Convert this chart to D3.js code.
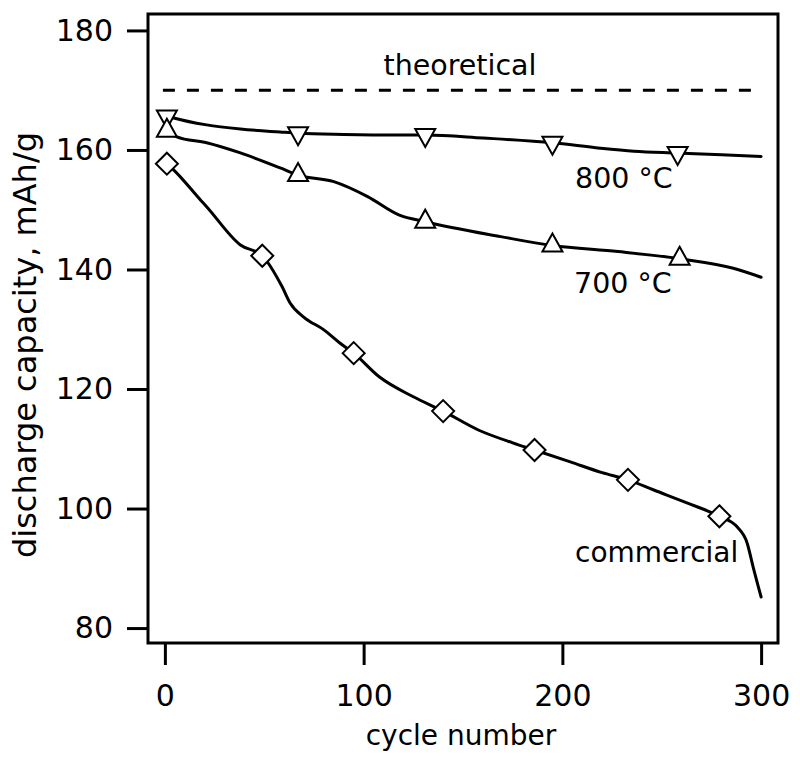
<!DOCTYPE html>
<html>
<head>
<meta charset="utf-8">
<script src="https://cdn.jsdelivr.net/npm/d3@7"></script>
<style>
  html, body { margin: 0; padding: 0; background: #fff; }
  svg { display: block; }
  text { font-family: "DejaVu Sans", sans-serif; fill: #000; }
</style>
</head>
<body>
<svg id="chart" width="800" height="761"></svg>
<script>
// ---- data ----
const xTicks = [0, 100, 200, 300];
const yTicks = [80, 100, 120, 140, 160, 180];
const theoretical = 170;

// 800 °C curve [cycle, capacity]
const line800 = [[0,165.8],[4,165.4],[21,164.2],[38,163.5],[58,163.0],[67,162.8],[90,162.6],[118,162.5],[131,162.5],[160,162.0],[195,161.2],[219,160.3],[236,159.8],[258,159.5],[280,159.2],[300,158.9]];
const markers800 = [[1,165.6],[67,162.8],[131,162.5],[195,161.2],[258,159.5]];

// 700 °C curve
const line700 = [[0,163.6],[6,162.2],[21,161.2],[38,159.5],[58,157.0],[67,155.8],[85,154.7],[102,152.2],[118,149.1],[131,148.0],[169,145.5],[195,144.0],[228,143.0],[259,141.8],[286,140.2],[300,138.7]];
const markers700 = [[1,163.2],[67,155.8],[131,148.0],[195,144.0],[259,141.8]];

// commercial curve
const lineCom = [[1,157.7],[4,156.8],[18,151.6],[21,150.5],[38,144.1],[49,142.3],[59,137.1],[63,134.4],[70,132.0],[80,129.9],[88,127.7],[95,126.0],[108,122.0],[125,118.7],[140,116.3],[158,113.1],[175,111.0],[186,109.8],[204,107.8],[220,106.0],[233,104.8],[246,103.1],[263,100.9],[279,98.7],[288,96.9],[293,94.2],[296,90.2],[300,85.2]];
const markersCom = [[1,157.7],[49,142.3],[95,126.0],[140,116.3],[186,109.8],[233,104.8],[279,98.7]];

// ---- layout ----
const svg = d3.select("#chart");
const frame = {left: 148, top: 14, right: 778, bottom: 643};

const x = d3.scaleLinear().domain([-8.5, 308.5]).range([frame.left, frame.right]);
const y = d3.scaleLinear().domain([77.5, 182.75]).range([frame.bottom, frame.top]);

// axes
const xAxis = d3.axisBottom(x).tickValues(xTicks).tickSize(22).tickPadding(20).tickFormat(d3.format("d"));
const yAxis = d3.axisLeft(y).tickValues(yTicks).tickSize(21).tickPadding(14).tickFormat(d3.format("d"));

const gx = svg.append("g").attr("transform", `translate(0,${frame.bottom})`).call(xAxis);
const gy = svg.append("g").attr("transform", `translate(${frame.left},0)`).call(yAxis);
[gx, gy].forEach(g => {
  g.select(".domain").remove();
  g.selectAll(".tick line").attr("stroke", "#000").attr("stroke-width", 3);
  g.selectAll(".tick text").style("font-family", "'DejaVu Sans', sans-serif").style("font-size", "30px").attr("fill", "#000");
});

// frame
svg.append("rect")
  .attr("x", frame.left).attr("y", frame.top)
  .attr("width", frame.right - frame.left).attr("height", frame.bottom - frame.top)
  .attr("fill", "none").attr("stroke", "#000").attr("stroke-width", 3);

// theoretical dashed line
svg.append("line")
  .attr("x1", x(-1)).attr("x2", x(300))
  .attr("y1", y(theoretical)).attr("y2", y(theoretical))
  .attr("stroke", "#000").attr("stroke-width", 3).attr("stroke-dasharray", "12,12");

// curves
const lineGen = d3.line().x(d => x(d[0])).y(d => y(d[1])).curve(d3.curveMonotoneX);
[line800, line700, lineCom].forEach(data => {
  svg.append("path").datum(data)
    .attr("d", lineGen)
    .attr("fill", "none").attr("stroke", "#000").attr("stroke-width", 3)
    .attr("stroke-linejoin", "round").attr("stroke-linecap", "round");
});

// markers
const downTri = "M0,12L10,-6L-10,-6Z";
const upTri = "M0,-12L10,6L-10,6Z";
const diamond = "M0,-11L11,0L0,11L-11,0Z";
function drawMarkers(data, shape) {
  svg.append("g").selectAll("path").data(data).join("path")
    .attr("d", shape)
    .attr("transform", d => `translate(${x(d[0])},${y(d[1])})`)
    .attr("fill", "#fff").attr("stroke", "#000").attr("stroke-width", 2)
    .attr("stroke-linejoin", "miter");
}
drawMarkers(markers800, downTri);
drawMarkers(markers700, upTri);
drawMarkers(markersCom, diamond);

// annotations
svg.append("text").attr("x", 460).attr("y", 75).attr("text-anchor", "middle")
  .style("font-size", "28.5px").text("theoretical");
svg.append("text").attr("x", 575).attr("y", 188).style("font-size", "28.5px").text("800 °C");
svg.append("text").attr("x", 574).attr("y", 293).style("font-size", "28.5px").text("700 °C");
svg.append("text").attr("x", 575).attr("y", 562).style("font-size", "28px").text("commercial");

// axis titles
svg.append("text").attr("x", 461).attr("y", 745).attr("text-anchor", "middle")
  .style("font-size", "28px").text("cycle number");
svg.append("text").attr("transform", "translate(36,345) rotate(-90)").attr("text-anchor", "middle")
  .style("font-size", "32px").text("discharge capacity, mAh/g");
</script>
</body>
</html>
